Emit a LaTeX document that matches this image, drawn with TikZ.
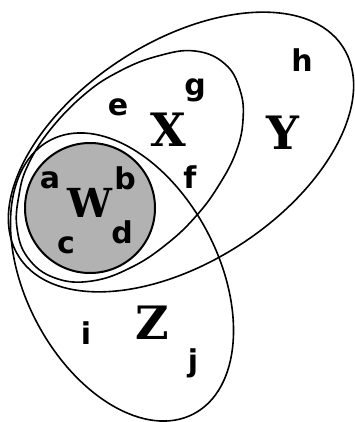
\documentclass[tikz,border=0pt]{standalone}
\usepackage{fontspec}
\newfontfamily\lowfont{DejaVu Sans}[BoldFont={DejaVu Sans Bold}]
\newfontfamily\capfont{DejaVu Serif}[BoldFont={DejaVu Serif Bold}]
\begin{document}
\begin{tikzpicture}[x=1pt,y=-1pt,
  setline/.style={line width=1.6pt,black},
  small/.style={font=\lowfont\bfseries\fontsize{30}{30}\selectfont,inner sep=0pt},
  big/.style={font=\capfont\bfseries\fontsize{46}{46}\selectfont,inner sep=0pt}]
\useasboundingbox (0,0) rectangle (355,422);
% W
\draw[line width=2pt,fill=black!30] (90,208) circle [radius=65];
% Y
\draw[setline,rotate around={33:(181,152)}] (181,152) ellipse [x radius=193, y radius=110];
% Z
\draw[setline,rotate around={-62.4:(122,277)}] (122,277) ellipse [x radius=154.5, y radius=96.5];
% X
\draw[setline] plot[smooth cycle, tension=0.7] coordinates {
 (195,51) (225,64) (240,90) (243,120) (236,152) (219,185) (197,215)
 (168,243) (132,267) (92,281) (55,278) (28,258) (17,228) (19,195)
 (28,165) (50,130) (85,94) (120,71) (158,56)};
% labels
\node[small] (h) at (302,60) {h};
\node[small] (g) at (195,90) {g};
\node[small] (e) at (118,107) {e};
\node[small] (f) at (190,177) {f};
\node[small] (a) at (50,180) {a};
\node[small] (b) at (125,178) {b};
\node[small] (d) at (122,232) {d};
\node[small] (c) at (66,245) {c};
\node[small] (i) at (86,333) {i};
\node[small] (j) at (193,363) {j};
\node[big] (X) at (168,130) {X};
\node[big] (Y) at (283,133) {Y};
\node[big,font=\capfont\bfseries\fontsize{40}{40}\selectfont] (W) at (90,203) {W};
\node[big] (Z) at (152,323) {Z};
\end{tikzpicture}
\end{document}
